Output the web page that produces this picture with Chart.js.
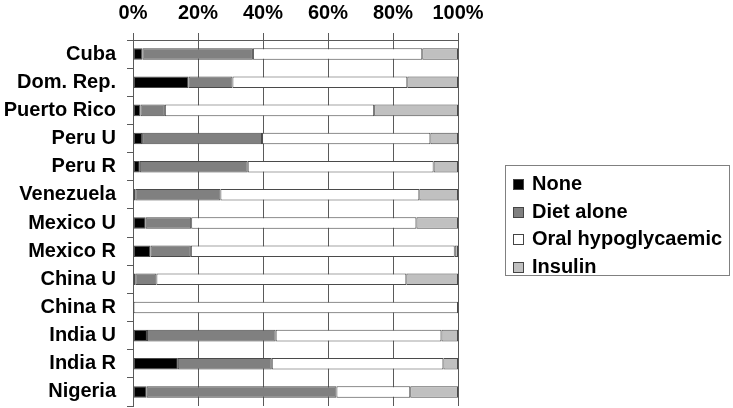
<!DOCTYPE html>
<html>
<head>
<meta charset="utf-8">
<script src="https://cdn.jsdelivr.net/npm/chart.js@4.4.1/dist/chart.umd.min.js"></script>
<style>
  html, body { margin: 0; padding: 0; background: #fff; }
  #wrap { position: relative; width: 733px; height: 408px; }
  #legend {
    position: absolute; left: 505px; top: 165px; width: 225px; height: 111px;
    border: 1px solid #808080; box-sizing: border-box;
    font: bold 20px 'Liberation Sans', Arial, sans-serif; color: #000;
    padding-top: 4px;
  }
  #legend .item { height: 27.5px; line-height: 27.5px; white-space: nowrap; position: relative; padding-left: 26px; }
  #legend .sw { position: absolute; left: 7px; top: 9px; width: 9px; height: 9px; border: 1px solid #444; }
</style>
</head>
<body>
<div id="wrap">
  <canvas id="chart" width="733" height="408"></canvas>
  <div id="legend"></div>
</div>
<script>
  // categories (top to bottom)
  const regions = ['Cuba', 'Dom. Rep.', 'Puerto Rico', 'Peru U', 'Peru R', 'Venezuela',
    'Mexico U', 'Mexico R', 'China U', 'China R', 'India U', 'India R', 'Nigeria'];

  // treatment shares, % of each region
  const noneVals    = [2.9, 17.1, 2.3, 2.8, 2.1, 0.7, 3.9, 5.4, 0.7, null, 4.3, 13.8, 4.2];
  const dietVals    = [34.0, 13.5, 7.5, 36.9, 33.2, 26.2, 14.0, 12.4, 6.5, null, 39.6, 28.9, 58.4];
  const oralVals    = [52.1, 53.8, 64.4, 51.8, 57.2, 61.2, 69.3, 81.2, 76.9, 100, 51.0, 52.8, 22.7];
  const insulinVals = [11.0, 15.6, 25.8, 8.5, 7.5, 11.9, 12.8, 1.0, 15.9, null, 5.1, 4.5, 14.7];

  const seriesNames = ['None', 'Diet alone', 'Oral hypoglycaemic', 'Insulin'];
  const seriesColors = ['#000000', '#808080', '#ffffff', '#c0c0c0'];
  const xTicks = [0, 20, 40, 60, 80, 100];

  const font = { family: "'Liberation Sans', Arial, sans-serif", size: 20, weight: 'bold' };
  const axisColor = '#5a5a5a';

  const datasets = [noneVals, dietVals, oralVals, insulinVals].map((d, i) => ({
    label: seriesNames[i],
    data: d,
    backgroundColor: seriesColors[i],
    borderColor: '#4a4a4a',
    borderWidth: 1,
    borderSkipped: false,
    barPercentage: 0.41,
    categoryPercentage: 1
  }));

  new Chart(document.getElementById('chart'), {
    type: 'bar',
    data: { labels: regions, datasets },
    options: {
      indexAxis: 'y',
      responsive: false,
      animation: false,
      layout: { padding: { left: 3, right: 275, top: 0, bottom: 2 } },
      plugins: { legend: { display: false }, tooltip: { enabled: false } },
      scales: {
        x: {
          position: 'top',
          stacked: true,
          min: 0, max: 100,
          afterBuildTicks: ax => { ax.ticks = xTicks.map(v => ({ value: v })); },
          afterFit: ax => { ax.height = 40; },
          ticks: { color: '#000', font, padding: 8, callback: v => v + '%', maxRotation: 0 },
          grid: { color: axisColor, tickLength: 7, tickColor: axisColor },
          border: { color: axisColor }
        },
        y: {
          stacked: true,
          afterFit: ax => { ax.width = 130; ax.paddingTop = 0; ax.paddingBottom = 0; },
          ticks: { color: '#000', font, padding: 11, autoSkip: false },
          grid: { drawOnChartArea: false, tickLength: 6, color: axisColor, offset: true },
          border: { color: axisColor }
        }
      }
    }
  });

  // legend box on the right
  const legend = document.getElementById('legend');
  seriesNames.forEach((name, i) => {
    const row = document.createElement('div');
    row.className = 'item';
    row.innerHTML = `<span class="sw" style="background:${seriesColors[i]}"></span>${name}`;
    legend.appendChild(row);
  });
</script>
</body>
</html>
